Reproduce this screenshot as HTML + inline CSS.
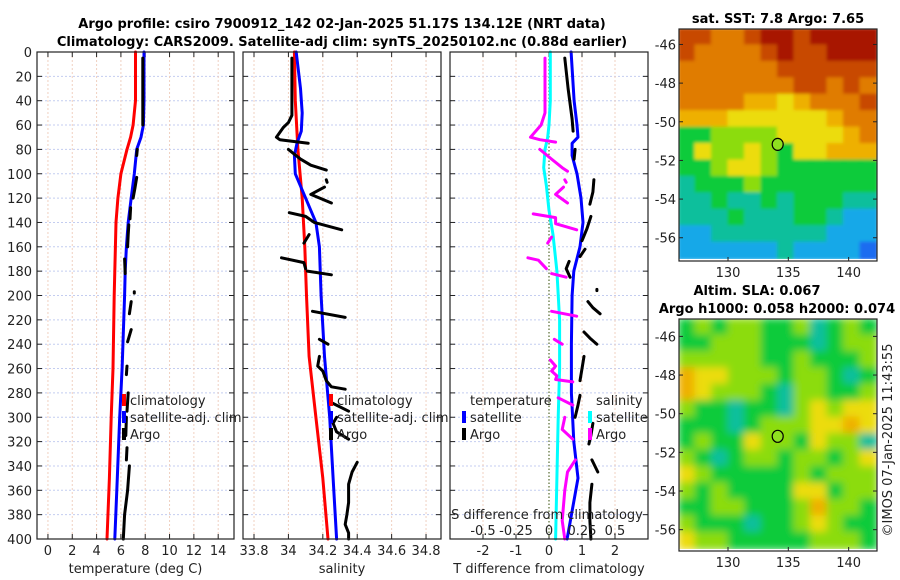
<!DOCTYPE html>
<html><head><meta charset="utf-8"><style>
html,body{margin:0;padding:0;background:#fff;}
svg{display:block;font-family:"DejaVu Sans","Liberation Sans",sans-serif;}
</style></head><body>
<svg id="fig" width="900" height="580" viewBox="0 0 900 580" xmlns="http://www.w3.org/2000/svg">
<defs>
<filter id="blurTop" x="0" y="0" width="100%" height="100%"><feGaussianBlur stdDeviation="1.5"/></filter>
<filter id="blurBot" x="0" y="0" width="100%" height="100%"><feGaussianBlur stdDeviation="4"/></filter>
<clipPath id="clipTop"><rect x="679" y="29" width="198" height="230"/></clipPath>
<clipPath id="clipBot"><rect x="679" y="319" width="198" height="230"/></clipPath>
</defs>
<text x="342" y="28" text-anchor="middle" font-size="13" font-weight="bold">Argo profile: csiro 7900912_142 02-Jan-2025 51.17S 134.12E (NRT data)</text>
<text x="342" y="46" text-anchor="middle" font-size="13" font-weight="bold">Climatology: CARS2009. Satellite-adj clim: synTS_20250102.nc (0.88d earlier)</text>
<text x="778" y="23" text-anchor="middle" font-size="13" font-weight="bold">sat. SST: 7.8 Argo: 7.65</text>
<text x="757" y="295" text-anchor="middle" font-size="13" font-weight="bold">Altim. SLA: 0.067</text>
<text x="777" y="313" text-anchor="middle" font-size="13" font-weight="bold">Argo h1000: 0.058 h2000: 0.074</text>
<text transform="translate(892,440) rotate(-90)" text-anchor="middle" font-size="13" fill="#222">©IMOS 07-Jan-2025 11:43:55</text>
<g id="plots"></g>
</svg>
<script>
// ---- profile data ----
const depthT = [0,20,40,60,70,80,100,120,140,160,180,200,260,300,350,400];
const tClim  = [7.2,7.2,7.2,7.0,6.8,6.5,6.0,5.75,5.6,5.55,5.5,5.45,5.35,5.2,5.05,4.86];
const tSat   = [7.9,7.9,7.9,7.85,7.65,7.3,7.1,6.85,6.6,6.45,6.35,6.3,6.1,5.9,5.7,5.5];
const argoTDepth = [5,30,60,null,80,85,null,103,112,120,null,128,137,null,142,150,160,null,170,182,null,197,198,null,205,215,null,228,238,null,258,265,null,280,295,null,300,315,null,325,335,null,340,360,380,400];
const argoT      = [7.8,7.8,7.8,null,7.35,7.3,null,7.3,7.15,7.0,null,6.8,6.75,null,6.65,6.6,6.55,null,6.3,6.35,null,7.1,7.1,null,6.85,6.7,null,6.85,6.55,null,6.5,6.45,null,6.6,6.5,null,6.45,6.4,null,6.5,6.45,null,6.7,6.55,6.3,6.2];

const depthSClim = [0,40,80,120,160,200,250,300,350,400];
const sClim = [34.035,34.04,34.055,34.08,34.095,34.105,34.12,34.16,34.2,34.23];
const depthSSat = [0,30,50,65,75,85,100,120,140,160,200,250,300,350,400];
const sSat = [34.045,34.07,34.08,34.075,34.05,34.035,34.04,34.1,34.16,34.18,34.19,34.21,34.24,34.26,34.28];
const argoSDepth = [5,30,52,58,62,70,72,75,null,80,88,93,97,null,105,107,null,111,117,124,null,132,135,140,146,null,150,157,null,169,173,178,null,180,183,null,213,218,null,236,240,null,250,258,262,270,275,277,null,288,295,null,300,305,312,318,null,337,345,355,370,380,388,395,400];
const argoS = [34.02,34.02,34.02,34.0,33.97,33.93,33.95,34.115,null,34.0,34.07,34.13,34.22,null,34.22,34.225,null,34.21,34.13,34.25,null,34.005,34.1,34.15,34.31,null,34.12,34.09,null,33.96,34.09,34.1,null,34.11,34.25,null,34.14,34.33,null,34.18,34.23,null,34.18,34.17,34.2,34.22,34.25,34.33,null,34.25,34.35,null,34.28,34.26,34.28,34.35,null,34.4,34.37,34.35,34.35,34.34,34.33,34.35,34.35];

const depthTd = [0,40,60,70,75,85,100,120,140,160,180,200,240,280,320,350,400];
const tSatDiff = [0.67,0.76,0.85,0.88,0.7,0.7,0.85,0.97,1.03,0.94,0.75,0.7,0.68,0.68,0.75,0.88,0.55];
const depthSd = [0,40,60,70,80,95,110,130,150,180,220,260,300,350,400];
const sSatDiff = [0.01,0.01,0.0,-0.01,-0.03,-0.04,-0.02,0.0,0.03,0.06,0.08,0.08,0.07,0.06,0.05];
const argoTdDepth = [5,30,55,65,null,80,88,null,105,115,125,null,135,145,155,null,162,168,null,172,178,185,null,195,196,null,205,210,215,null,230,235,240,null,250,260,270,null,282,290,300,null,305,315,322,null,335,345,null,355,370,385,400];
const argoTDiff = [0.48,0.58,0.70,0.73,null,0.79,0.76,null,1.36,1.33,1.24,null,1.27,1.15,1.0,null,1.09,0.94,null,0.61,0.52,0.64,null,1.45,1.45,null,1.18,1.33,1.55,null,1.06,1.24,1.45,null,1.06,1.0,0.94,null,0.94,0.88,0.79,null,1.33,1.27,1.21,null,1.3,1.48,null,1.3,1.24,1.24,1.27];
const argoSdDepth = [5,50,60,70,72,74,null,80,88,95,98,null,105,107,null,111,117,124,null,133,136,141,146,null,152,157,null,169,171,178,null,182,185,null,213,217,null,236,240,null,253,258,262,266,269,271,null,284,290,null,300,310,318,null,335,345,360,385,400];
const argoSDiff = [-0.03,-0.03,-0.06,-0.14,-0.07,0.05,null,-0.07,0.02,0.1,0.14,null,0.12,0.13,null,0.11,0.05,0.14,null,-0.12,0.05,0.05,0.21,null,0.02,-0.01,null,-0.16,-0.08,-0.02,null,0.02,0.13,null,0.02,0.21,null,0.04,0.1,null,0.01,0.05,0.02,0.06,0.05,0.18,null,0.07,0.18,null,0.12,0.1,0.18,null,0.2,0.14,0.12,0.1,0.12];

// ---- map data (colour class per cell, 12 cols x 14 rows) ----
const sstGrid = [
[8,8,7,7,8,9,9,8,9,9,9,9],
[8,7,7,7,7,8,9,8,8,9,9,9],
[7,7,7,7,7,7,8,8,8,8,8,8],
[7,7,7,7,7,7,7,8,8,7,8,7],
[7,7,7,7,6,6,5,6,7,7,7,8],
[6,6,6,5,5,5,5,5,5,6,7,7],
[3,3,4,4,4,4,5,5,5,5,6,7],
[3,5,4,4,5,4,3,5,5,6,6,6],
[3,3,4,5,5,4,3,3,3,3,3,3],
[2,3,3,3,4,3,3,3,3,3,3,3],
[2,2,3,2,2,3,2,3,3,3,2,2],
[2,2,2,3,2,2,2,3,3,2,1,1],
[1,1,2,2,2,2,2,2,2,1,1,1],
[1,1,1,1,1,1,2,1,1,1,1,0]];
const slaGrid = [
[3,4,3,4,4,3,3,4,2,3,4,3],
[3,3,4,4,4,3,3,3,2,3,4,4],
[4,4,4,4,4,3,3,4,3,3,3,4],
[6,5,5,4,4,4,3,4,4,3,2,3],
[6,5,4,4,4,3,2,4,4,3,3,4],
[4,3,3,2,3,3,2,4,5,4,5,5],
[3,3,3,2,3,4,4,4,5,5,6,5],
[3,4,3,3,5,4,4,3,5,4,4,2],
[4,3,2,3,4,4,3,4,4,3,4,5],
[5,4,3,3,3,3,3,4,3,4,4,4],
[4,3,4,3,3,3,3,5,5,3,4,4],
[3,3,4,4,3,3,3,4,6,4,4,3],
[4,3,3,3,2,3,3,4,5,4,3,3],
[5,4,4,3,3,3,3,3,4,4,4,3]];
const cmap = ['#1a6cf0','#12a8e8','#0cbf9c','#0ccb3a','#8cdc08','#ecdc08','#eeb000','#e07c00','#c84a00','#a81800'];
const latTicks = [-46,-48,-50,-52,-54,-56];
const lonTicks = [130,135,140];
const argoLon = 134.12, argoLat = -51.17;

const NS = 'http://www.w3.org/2000/svg';
const root = document.getElementById('plots');
function mk(tag, attrs, parent){ const e=document.createElementNS(NS,tag); for(const k in attrs) e.setAttribute(k,attrs[k]); (parent||root).appendChild(e); return e; }
function txt(x,y,s,size,anchor,parent){ const t=mk('text',{x:x,y:y,'font-size':size,'text-anchor':anchor||'middle',fill:'#222'},parent); t.textContent=s; return t; }

const yTop=52, yBot=539;
const yD = d => yTop + (d/400)*(yBot-yTop);

function panel(name, x0, x1, xmin, xmax, ticks, tickLabels, gridX, title){
  const g = mk('g',{});
  
  
  const xs = v => x0 + (v-xmin)/(xmax-xmin)*(x1-x0);
  mk('rect',{x:x0,y:yTop,width:x1-x0,height:yBot-yTop,fill:'#fff'},g);
  for(let d=20; d<400; d+=20) mk('line',{x1:x0,x2:x1,y1:yD(d),y2:yD(d),stroke:'#c4cdf0','stroke-width':1,'stroke-dasharray':'2,2'},g);
  gridX.forEach(v=>mk('line',{x1:xs(v),x2:xs(v),y1:yTop,y2:yBot,stroke:'#f0d0c0','stroke-width':1,'stroke-dasharray':'2,2'},g));
  for(let d=0; d<=400; d+=20){ mk('line',{x1:x0,x2:x0+5,y1:yD(d),y2:yD(d),stroke:'#222'},g); mk('line',{x1:x1-5,x2:x1,y1:yD(d),y2:yD(d),stroke:'#222'},g); }
  ticks.forEach((v,i)=>{ mk('line',{x1:xs(v),x2:xs(v),y1:yBot,y2:yBot-5,stroke:'#222'},g); mk('line',{x1:xs(v),x2:xs(v),y1:yTop,y2:yTop+5,stroke:'#222'},g);
    if(tickLabels[i]!=='') { const t=txt(xs(v),555,tickLabels[i],13,'middle',g);   } });
  const tt = txt((x0+x1)/2,573,title,13,'middle',g);
  
  
  return {g, xs};
}
function series(p, depths, vals, color, w, name){
  let dstr='', pen=false;
  for(let i=0;i<vals.length;i++){
    if(vals[i]===null||depths[i]===null){pen=false;continue;}
    dstr += (pen?'L':'M') + p.xs(vals[i]).toFixed(1)+','+yD(depths[i]).toFixed(1);
    pen=true;
  }
  const e = mk('path',{d:dstr,fill:'none',stroke:color,'stroke-width':w,'stroke-linejoin':'round','stroke-linecap':'round'},p.g);
  
  
}
function frame(p,x0,x1){ mk('rect',{x:x0,y:yTop,width:x1-x0,height:yBot-yTop,fill:'none',stroke:'#222','stroke-width':1.2},p.g); }
function legItem(g,x,y,color,label){ mk('rect',{x:x,y:y-11,width:4,height:12,fill:color},g); const t=txt(x+8,y,label,13,'start',g);   }

// panel 1 temperature
const p1 = panel('temperature-panel',37,234,-0.9,15.3,[0,2,4,6,8,10,12,14],['0','2','4','6','8','10','12','14'],[0,2,4,6,8,10,12,14],'temperature (deg C)');
series(p1,depthT,tClim,'#ff0000',3,'temp-climatology-line');
series(p1,depthT,tSat,'#0000ff',3,'temp-satellite-line');
series(p1,argoTDepth,argoT,'#000',3,'temp-argo-line');
legItem(p1.g,122,405,'#ff0000','climatology');
legItem(p1.g,122,422,'#0000ff','satellite-adj. clim');
legItem(p1.g,122,439,'#000','Argo');
frame(p1,37,234);
for(let d=0; d<=400; d+=20){ const t=txt(32,yD(d)+5,String(d),13,'end');   }

// panel 2 salinity
const p2 = panel('salinity-panel',243,441,33.736,34.887,[33.8,34,34.2,34.4,34.6,34.8],['33.8','34','34.2','34.4','34.6','34.8'],[33.8,34,34.2,34.4,34.6,34.8],'salinity');
series(p2,depthSClim,sClim,'#ff0000',3,'sal-climatology-line');
series(p2,depthSSat,sSat,'#0000ff',3,'sal-satellite-line');
series(p2,argoSDepth,argoS,'#000',3,'sal-argo-line');
legItem(p2.g,329,405,'#ff0000','climatology');
legItem(p2.g,329,422,'#0000ff','satellite-adj. clim');
legItem(p2.g,329,439,'#000','Argo');
frame(p2,243,441);

// panel 3 differences
const p3 = panel('difference-panel',450,648,-3.0,3.0,[-2,-1,0,1,2],['-2','-1','0','1','2'],[-2,-1,1,2],'T difference from climatology');
const p3s = {g:p3.g, xs: v => p3.xs(v*4)};
mk('line',{x1:p3.xs(0),x2:p3.xs(0),y1:yTop,y2:yBot,stroke:'#556b2f','stroke-width':1.2,'stroke-dasharray':'1.5,2'},p3.g);
series(p3s,depthSd,sSatDiff,'#00ffff',3,'sdiff-satellite-line');
series(p3,depthTd,tSatDiff,'#0000ff',3,'tdiff-satellite-line');
series(p3,argoTdDepth,argoTDiff,'#000',3,'tdiff-argo-line');
series(p3s,argoSdDepth,argoSDiff,'#ff00ff',3,'sdiff-argo-line');
{ const t=txt(470,405,'temperature',13,'start',p3.g);   }
legItem(p3.g,462,422,'#0000ff','satellite');
legItem(p3.g,462,439,'#000','Argo');
{ const t=txt(596,405,'salinity',13,'start',p3.g);   }
legItem(p3.g,588,422,'#00ffff','satellite');
legItem(p3.g,588,439,'#ff00ff','Argo');
{ const t=txt(547,519,'S difference from climatology',13,'middle',p3.g);   }
const sTicks=[-0.5,-0.25,0,0.25,0.5], sLabels=['-0.5','-0.25','0','0.25','0.5'];
sTicks.forEach((v,i)=>{ const t=txt(p3s.xs(v),535,sLabels[i],13,'middle',p3.g);   });
frame(p3,450,648);

// maps
function drawMap(name, grid, y0, filt, clip, latTop, latBot){
  const g = mk('g',{});
  
  
  const x0=679, x1=877, y1=y0+230, lonL=125.94, lonR=142.35;
  const lx = lon => x0 + (lon-lonL)/(lonR-lonL)*(x1-x0);
  const ly = lat => y0 + (latTop-lat)/(latTop-latBot)*(y1-y0);
  const cg = mk('g',{'clip-path':'url(#'+clip+')'},g);
  const ig = mk('g',{filter:'url(#'+filt+')'},cg);
  const rows=grid.length, cols=grid[0].length, cw=(x1-x0)/cols, ch=(y1-y0)/rows;
  mk('rect',{x:x0,y:y0,width:x1-x0,height:y1-y0,fill:cmap[grid[rows-1][0]]},ig);
  grid.forEach((row,r)=>row.forEach((v,c)=>{
    const cell = mk('rect',{x:(x0+c*cw-1).toFixed(1),y:(y0+r*ch-1).toFixed(1),width:(cw+2).toFixed(1),height:(ch+2).toFixed(1),fill:cmap[v]},ig);
    
    
  }));
  mk('rect',{x:x0,y:y0,width:x1-x0,height:y1-y0+2,fill:'none',stroke:'#222','stroke-width':1.2},g);
  latTicks.forEach(v=>{ const yy=ly(v); mk('line',{x1:x0,x2:x0+4,y1:yy,y2:yy,stroke:'#222'},g); mk('line',{x1:x1-4,x2:x1,y1:yy,y2:yy,stroke:'#222'},g);
    const t=txt(676,yy+5,String(v),13,'end',g);   });
  lonTicks.forEach(v=>{ const xx=lx(v); mk('line',{x1:xx,x2:xx,y1:y1+2,y2:y1-2,stroke:'#222'},g);
    const t=txt(xx,y1+18,String(v),13,'middle',g);   });
  const m = mk('ellipse',{cx:lx(argoLon),cy:ly(argoLat),rx:5.5,ry:6,fill:'#8fe020',stroke:'#000','stroke-width':1.2},g);
  
  
}
drawMap('sst-map',sstGrid,29,'blurTop','clipTop',-45.2,-57.1);
drawMap('sla-map',slaGrid,319,'blurBot','clipBot',-45.1,-57.0);
</script>
</body></html>
